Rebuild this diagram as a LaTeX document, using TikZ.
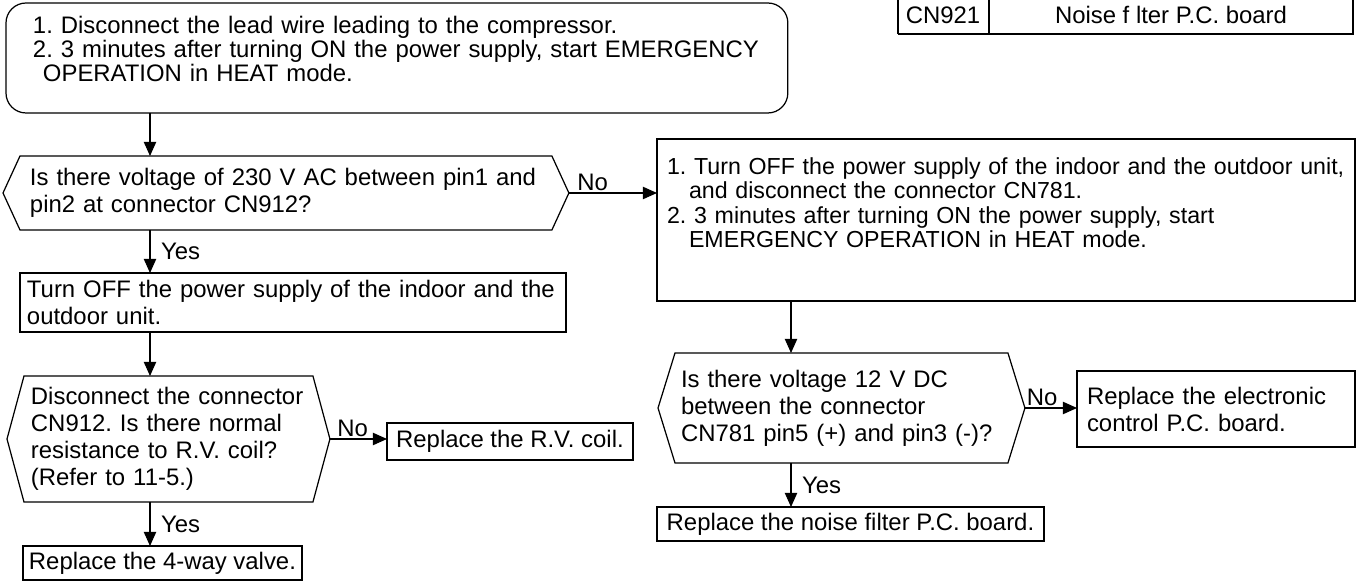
\documentclass[tikz,border=0pt]{standalone}
\usepackage{fontspec}
\setmainfont{Liberation Sans}
\usetikzlibrary{arrows.meta}
\frenchspacing
\hyphenpenalty=10000
\begin{document}
\begin{tikzpicture}[x=0.02cm,y=-0.02cm,
txt/.style={font={\fontsize{13.6pt}{15.4pt}\selectfont},text=black},
lst/.style={font={\fontsize{13.6pt}{13.8pt}\selectfont},text=black},
box/.style={txt,draw,line width=1pt,anchor=north west,outer sep=0pt,align=left},
startbox/.style={lst,draw,line width=0.7pt,rounded corners=0.4cm,anchor=north west,outer sep=0pt,align=left},
decide/.style={txt,anchor=north west,outer sep=0pt,align=left},
final/.style={txt,draw,line width=1.5pt,anchor=north west,outer sep=0pt,align=center},
hexline/.style={line width=0.7pt,line join=miter},
flow/.style={-{Triangle[length=8pt,width=7pt]},line width=0.6pt},
no/.style={txt,above,inner sep=1pt},
yes/.style={txt,right=5pt,inner sep=1pt}
]
\useasboundingbox (0,0) rectangle (1364,581);
\coordinate (lc) at (150,0);
\coordinate (rc) at (791,0);

\draw[line width=1pt] (898,0) -- (898,34);
\draw[line width=1.4pt] (898,34) -- (1353,34) -- (1353,0);
\draw[line width=0.6pt] (989,0) -- (989,34);
\node[txt] (cn) at (943,15) {CN921};
\node[txt] (cnpart) at (1171,15) {Noise f lter P.C. board};

\node[startbox,minimum width=15.64cm,minimum height=2.2cm,text width=14.56cm,inner xsep=0.54cm] (start) at (6,3)
{1. Disconnect the lead wire leading to the compressor.\\
2. 3 minutes after turning ON the power supply, start EMERGENCY\\
\hspace*{0.2cm}OPERATION in HEAT mode.\rule[-0.36cm]{0pt}{0pt}};

\node[decide,minimum width=11.32cm,minimum height=1.48cm,text width=10.24cm,inner xsep=0.54cm] (q1) at (3,156)
{Is there voltage of 230 V AC between pin1 and\\pin2 at connector CN912?};
\draw[hexline] (q1.west) -- ([xshift=0.34cm]q1.north west) -- ([xshift=-0.34cm]q1.north east) -- (q1.east)
  -- ([xshift=-0.34cm]q1.south east) -- ([xshift=0.34cm]q1.south west) -- cycle;

\node[box,font={\fontsize{13.2pt}{13.8pt}\selectfont},minimum width=13.96cm,minimum height=3.24cm,text width=13.56cm,inner xsep=0.2cm] (r1) at (657,139)
{1. Turn OFF the power supply of the indoor and the outdoor unit,\\
\hspace*{0.44cm}and disconnect the connector CN781.\\
2. 3 minutes after turning ON the power supply, start\\
\hspace*{0.44cm}EMERGENCY OPERATION in HEAT mode.\rule[-0.7cm]{0pt}{0pt}};

\node[box,minimum width=10.92cm,minimum height=1.18cm,text width=10.64cm,inner xsep=0.14cm] (t1) at (20,273)
{Turn OFF the power supply of the indoor and the\\outdoor unit.};

\node[decide,minimum width=6.46cm,minimum height=2.52cm,text width=5.5cm,inner xsep=0.48cm] (q2) at (7,376)
{Disconnect the connector\\CN912. Is there normal\\resistance to R.V. coil?\\(Refer to 11-5.)};
\draw[hexline] (q2.west) -- ([xshift=0.34cm]q2.north west) -- ([xshift=-0.34cm]q2.north east) -- (q2.east)
  -- ([xshift=-0.34cm]q2.south east) -- ([xshift=0.34cm]q2.south west) -- cycle;

\node[final,minimum width=4.92cm,minimum height=0.74cm] (rv) at (387,423) {Replace the R.V. coil.};
\node[final,minimum width=5.58cm,minimum height=0.64cm,inner xsep=2pt] (four) at (23,546) {Replace the 4-way valve.};

\node[decide,minimum width=7.34cm,minimum height=2.2cm,text width=6.42cm,inner xsep=0.46cm] (q3) at (658,353)
{Is there voltage 12 V DC\\between the connector\\CN781 pin5 (+) and pin3 (-)?};
\draw[hexline] (q3.west) -- ([xshift=0.34cm]q3.north west) -- ([xshift=-0.34cm]q3.north east) -- (q3.east)
  -- ([xshift=-0.34cm]q3.south east) -- ([xshift=0.34cm]q3.south west) -- cycle;

\node[final,align=left,minimum width=5.56cm,minimum height=1.52cm,text width=5.16cm,inner xsep=0.2cm] (elec) at (1077,371)
{Replace the electronic\\control P.C. board.};
\node[final,minimum width=7.74cm,minimum height=0.68cm] (noise) at (657,507) {Replace the noise filter P.C. board.};

\draw[flow] (start.south -| lc) -- (q1.north -| lc);
\draw[flow] (q1.south -| lc) -- node[yes] {Yes} (t1.north -| lc);
\draw[flow] (t1.south -| lc) -- (q2.north -| lc);
\draw[flow] (q2.south -| lc) -- node[yes] {Yes} (four.north -| lc);
\draw[flow] (q1.east) -- node[no,pos=0.27] {No} (q1.east -| r1.west);
\draw[flow] (q2.east) -- node[no,pos=0.4] {No} (q2.east -| rv.west);
\draw[flow] (r1.south -| rc) -- (q3.north -| rc);
\draw[flow] (q3.east) -- node[no,pos=0.33] {No} (q3.east -| elec.west);
\draw[flow] (q3.south -| rc) -- node[yes] {Yes} (noise.north -| rc);
\end{tikzpicture}
\end{document}
